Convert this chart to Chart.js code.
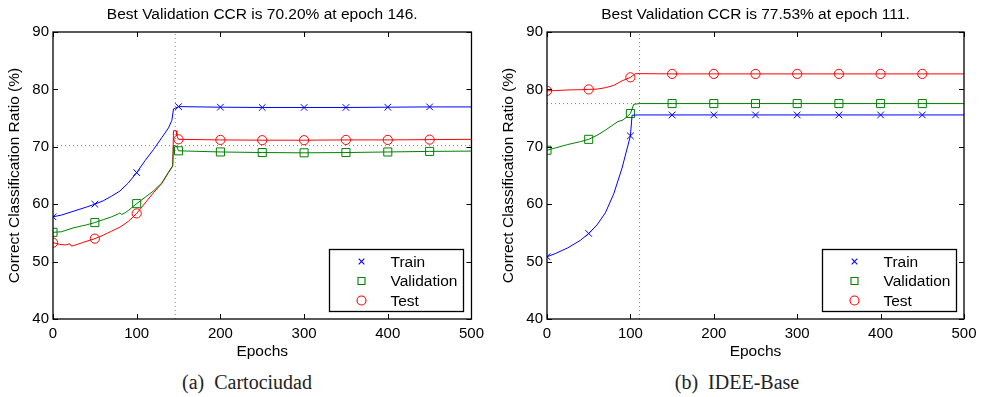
<!DOCTYPE html>
<html>
<head>
<meta charset="utf-8">
<script src="https://cdn.jsdelivr.net/npm/chart.js@4.4.0/dist/chart.umd.min.js"></script>
<style>
  body { margin: 0; background: #fff; width: 983px; height: 397px; position: relative; overflow: hidden; }
  .panel { position: absolute; top: 0; }
  .caption { position: absolute; top: 371px; width: 300px; text-align: center;
             font-family: "Liberation Serif", serif; font-size: 20px; line-height: 23px; color: #222; }
</style>
</head>
<body>
<div class="panel" style="left:0"><canvas id="cartoChart" width="490" height="365"></canvas></div>
<div class="panel" style="left:494px"><canvas id="ideeChart" width="489" height="365"></canvas></div>
<div class="caption" style="left:97px">(a)&nbsp; Cartociudad</div>
<div class="caption" style="left:587px">(b)&nbsp; IDEE-Base</div>
<script>
// Cartociudad training run
const cartoTrainEpochs = [0, 10, 25, 40, 50, 60, 70, 80, 90, 100, 110, 120, 130, 138, 142, 144, 147, 150, 200, 250, 300, 350, 400, 450, 500];
const cartoTrainCCR = [57.8, 58.1, 58.8, 59.5, 60.0, 60.6, 61.4, 62.3, 63.7, 65.5, 67.6, 69.5, 71.6, 73.3, 74.6, 76.6, 76.8, 77.0, 76.9, 76.85, 76.85, 76.85, 76.9, 76.95, 76.95];
const cartoValEpochs = [0, 10, 25, 40, 50, 60, 70, 78, 80, 82, 85, 90, 100, 110, 120, 130, 138, 143, 144, 146, 148, 150, 200, 250, 300, 350, 400, 450, 500];
const cartoValCCR = [55.1, 55.2, 55.9, 56.4, 56.8, 57.3, 57.8, 58.3, 58.5, 58.2, 58.4, 58.9, 60.1, 61.2, 62.3, 63.7, 65.6, 66.7, 70.2, 70.2, 70.1, 69.3, 69.1, 69.0, 68.95, 69.0, 69.1, 69.2, 69.25];
const cartoTestEpochs = [0, 8, 15, 20, 22, 25, 35, 50, 60, 70, 80, 90, 100, 110, 120, 130, 138, 143, 144, 147, 148, 150, 200, 250, 300, 350, 400, 450, 500];
const cartoTestCCR = [53.3, 53.0, 52.9, 53.1, 52.7, 52.8, 53.3, 54.0, 54.6, 55.3, 56.0, 57.0, 58.4, 60.2, 62.0, 63.6, 65.5, 66.6, 72.8, 72.8, 71.9, 71.3, 71.2, 71.15, 71.15, 71.2, 71.2, 71.25, 71.3];
const cartoBestEpoch = 146;
const cartoBestCCR = 70.20;

// IDEE-Base training run
const ideeTrainEpochs = [0, 10, 25, 40, 50, 60, 70, 80, 90, 100, 102, 110, 150, 200, 250, 300, 350, 400, 450, 500];
const ideeTrainCCR = [50.85, 51.4, 52.4, 53.7, 54.9, 56.4, 58.5, 61.8, 66.3, 71.9, 75.5, 75.55, 75.55, 75.55, 75.55, 75.55, 75.55, 75.55, 75.55, 75.55];
const ideeValEpochs = [0, 10, 25, 40, 50, 60, 70, 80, 85, 90, 95, 100, 104, 111, 150, 200, 250, 300, 350, 400, 450, 500];
const ideeValCCR = [69.4, 69.8, 70.4, 70.9, 71.3, 72.0, 72.9, 73.9, 74.4, 74.6, 75.1, 75.8, 77.4, 77.53, 77.53, 77.53, 77.53, 77.53, 77.53, 77.53, 77.53, 77.53];
const ideeTestEpochs = [0, 10, 25, 40, 50, 60, 70, 80, 90, 100, 106, 150, 200, 250, 300, 350, 400, 450, 500];
const ideeTestCCR = [79.75, 79.8, 79.9, 79.95, 80.0, 80.05, 80.3, 80.7, 81.5, 82.1, 82.75, 82.7, 82.7, 82.7, 82.7, 82.7, 82.7, 82.7, 82.7];
const ideeBestEpoch = 111;
const ideeBestCCR = 77.53;

const seriesLabels = ['Train', 'Validation', 'Test'];
const epochTicks = [0, 100, 200, 300, 400, 500];
const ccrTicks = [40, 50, 60, 70, 80, 90];

const FONT = '"Liberation Sans", Arial, sans-serif';
Chart.defaults.color = '#000';
Chart.defaults.font.family = FONT;

const styles = [
  { color: '#0000ff', pointStyle: 'crossRot', radius: 4.7 },
  { color: '#008000', pointStyle: 'rect', radius: 5.7 },
  { color: '#ff0000', pointStyle: 'circle', radius: 4.6 }
];
const markerEvery = 50;

function toPoints(epochs, values) {
  return epochs.map((e, i) => ({ x: e, y: values[i] }));
}

function seriesDataset(i, epochs, values) {
  const s = styles[i];
  return {
    label: seriesLabels[i],
    data: toPoints(epochs, values),
    borderColor: s.color,
    backgroundColor: 'rgba(0,0,0,0)',
    borderWidth: 1,
    pointStyle: s.pointStyle,
    pointBorderWidth: 1,
    pointRadius: ctx => (ctx.raw && ctx.raw.x % markerEvery === 0 && ctx.raw.x < 500 ? s.radius : 0),
    tension: 0,
    seriesIndex: i
  };
}

function bestLine(points) {
  return {
    data: points,
    borderColor: 'rgba(60,60,255,0.75)',
    borderWidth: 1,
    borderDash: [1, 3],
    pointRadius: 0
  };
}

// box, inward tick marks and the boxed legend
const framePlugin = {
  id: 'frame',
  afterDatasetsDraw(chart) {
    const { ctx, chartArea: a, scales } = chart;
    ctx.save();
    ctx.strokeStyle = '#000';
    ctx.lineWidth = 1.3;
    ctx.strokeRect(a.left, a.top, a.right - a.left, a.bottom - a.top);

    const len = 5;
    ctx.lineWidth = 1;
    ctx.beginPath();
    scales.x.ticks.forEach(t => {
      const px = Math.round(scales.x.getPixelForValue(t.value)) + 0.5;
      ctx.moveTo(px, a.bottom); ctx.lineTo(px, a.bottom - len);
      ctx.moveTo(px, a.top); ctx.lineTo(px, a.top + len);
    });
    scales.y.ticks.forEach(t => {
      const py = Math.round(scales.y.getPixelForValue(t.value)) + 0.5;
      ctx.moveTo(a.left, py); ctx.lineTo(a.left + len, py);
      ctx.moveTo(a.right, py); ctx.lineTo(a.right - len, py);
    });
    ctx.stroke();

    // legend
    const w = 134, h = 62;
    const bx = Math.round(a.right - 8 - w) + 0.5;
    const by = Math.round(a.bottom - 8 - h) + 0.5;
    ctx.fillStyle = '#fff';
    ctx.fillRect(bx, by, w, h);
    ctx.strokeStyle = '#000';
    ctx.lineWidth = 1.3;
    ctx.strokeRect(bx, by, w, h);

    const rows = [12, 31.5, 51];
    const sets = chart.data.datasets.filter(d => d.seriesIndex !== undefined);
    ctx.font = '15.5px ' + FONT;
    ctx.textBaseline = 'middle';
    ctx.textAlign = 'left';
    sets.forEach(d => {
      const s = styles[d.seriesIndex];
      const mx = bx + 32, my = by + rows[d.seriesIndex];
      ctx.strokeStyle = s.color;
      ctx.lineWidth = 1.1;
      ctx.beginPath();
      if (s.pointStyle === 'crossRot') {
        ctx.moveTo(mx - 2.8, my - 2.8); ctx.lineTo(mx + 2.8, my + 2.8);
        ctx.moveTo(mx + 2.8, my - 2.8); ctx.lineTo(mx - 2.8, my + 2.8);
      } else if (s.pointStyle === 'rect') {
        ctx.rect(mx - 3.5, my - 3.5, 7, 7);
      } else {
        ctx.arc(mx, my, 4.5, 0, Math.PI * 2);
      }
      ctx.stroke();
      ctx.fillStyle = '#000';
      ctx.fillText(d.label, bx + 61, my + 1);
    });
    ctx.restore();
  }
};

function buildChart(canvasId, titleText, padRight, series, bestEpoch, bestCCR) {
  const datasets = [
    bestLine([{ x: bestEpoch, y: ccrTicks[0] }, { x: bestEpoch, y: ccrTicks[ccrTicks.length - 1] }]),
    bestLine([{ x: epochTicks[0], y: bestCCR }, { x: epochTicks[epochTicks.length - 1], y: bestCCR }])
  ];
  series.forEach((s, i) => datasets.push(seriesDataset(i, s[0], s[1])));

  return new Chart(document.getElementById(canvasId), {
    type: 'line',
    data: { datasets: datasets },
    plugins: [framePlugin],
    options: {
      responsive: false,
      animation: false,
      layout: { padding: { left: 0, right: padRight, top: 0, bottom: 0 } },
      plugins: {
        legend: { display: false },
        tooltip: { enabled: false },
        title: {
          display: true,
          text: titleText,
          fullSize: false,
          color: '#000',
          font: { size: 15.5, weight: 'normal', family: FONT },
          padding: { top: 5, bottom: 8.4 }
        }
      },
      scales: {
        x: {
          type: 'linear',
          min: epochTicks[0],
          max: epochTicks[epochTicks.length - 1],
          afterBuildTicks: axis => { axis.ticks = epochTicks.map(v => ({ value: v })); },
          grid: { display: false, drawTicks: false },
          border: { display: false },
          ticks: { padding: 6, font: { size: 15 }, color: '#000' },
          title: { display: true, text: 'Epochs', font: { size: 15.5 }, padding: { top: 0, bottom: 4 } },
          afterFit: scale => { scale.height = 46; }
        },
        y: {
          type: 'linear',
          min: ccrTicks[0],
          max: ccrTicks[ccrTicks.length - 1],
          afterBuildTicks: axis => { axis.ticks = ccrTicks.map(v => ({ value: v })); },
          grid: { display: false, drawTicks: false },
          border: { display: false },
          ticks: { padding: 4, font: { size: 15 }, color: '#000' },
          title: { display: true, text: 'Correct Classification Ratio (%)', font: { size: 15.5 }, padding: { top: 5, bottom: 0 } },
          afterFit: scale => { scale.width = 53; }
        }
      }
    }
  });
}

buildChart('cartoChart', 'Best Validation CCR is 70.20% at epoch 146.', 16,
  [[cartoTrainEpochs, cartoTrainCCR], [cartoValEpochs, cartoValCCR], [cartoTestEpochs, cartoTestCCR]],
  cartoBestEpoch, cartoBestCCR);

buildChart('ideeChart', 'Best Validation CCR is 77.53% at epoch 111.', 19,
  [[ideeTrainEpochs, ideeTrainCCR], [ideeValEpochs, ideeValCCR], [ideeTestEpochs, ideeTestCCR]],
  ideeBestEpoch, ideeBestCCR);
</script>
</body>
</html>
